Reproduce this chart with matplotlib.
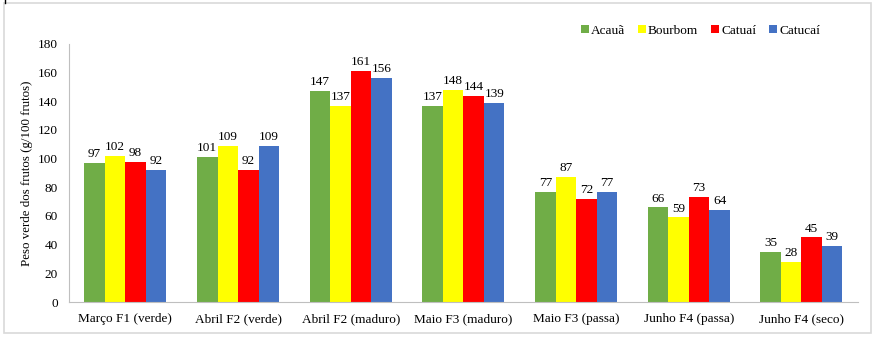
import numpy as np
import matplotlib.pyplot as plt
from matplotlib.patches import Rectangle
from matplotlib.lines import Line2D

plt.rcParams['font.family'] = ['Liberation Serif', 'DejaVu Serif']

# Fresh fruit weight per harvest stage and cultivar
stages = ['Março F1 (verde)', 'Abril F2 (verde)', 'Abril F2 (maduro)', 'Maio F3 (maduro)',
          'Maio F3 (passa)', 'Junho F4 (passa)', 'Junho F4 (seco)']
acaua = [97, 101, 147, 137, 77, 66, 35]
bourbom = [102, 109, 137, 148, 87, 59, 28]
catuai = [98, 92, 161, 144, 72, 73, 45]
catucai = [92, 109, 156, 139, 77, 64, 39]

series = [('Acauã', acaua, '#70AD47'),
          ('Bourbom', bourbom, '#FFFF00'),
          ('Catuaí', catuai, '#FF0000'),
          ('Catucaí', catucai, '#4472C4')]

fig = plt.figure(figsize=(8.78, 3.38), dpi=100)
ax = fig.add_axes([0.0786, 0.1065, 0.8984, 0.7635])

x = np.arange(len(stages))
w = 0.182
for i, (name, vals, col) in enumerate(series):
    pos = x + (i - 1.5) * w
    bars = ax.bar(pos, vals, w, color=col, label=name)
    for b, v in zip(bars, vals):
        ax.text(b.get_x() + b.get_width() / 2, v + 2, str(v),
                ha='center', va='bottom', fontsize=9.5)

ax.set_xlim(-0.5, len(stages) - 0.5)
ax.set_ylim(0, 180)
ax.set_yticks(range(0, 181, 20))
ax.set_xticks(x)
ax.set_xticklabels(stages)
ax.tick_params(axis='both', length=0, labelsize=9.5)
ax.tick_params(axis='y', pad=8)
ax.tick_params(axis='x', pad=8)
for s in ['top', 'right']:
    ax.spines[s].set_visible(False)
for s in ['left', 'bottom']:
    ax.spines[s].set_color('#BFBFBF')
ax.set_ylabel('Peso verde dos frutos (g/100 frutos)', fontsize=9.3, labelpad=4)
ax.yaxis.set_label_coords(-0.0456, 0.5)

leg = fig.legend(loc='upper left', bbox_to_anchor=(0.648, 0.962), ncol=4, frameon=False,
                 fontsize=9.5, handlelength=0.6, handleheight=0.6, handletextpad=0.15,
                 columnspacing=1.0)

# outer chart border
fig.add_artist(Rectangle((4 / 878, 5 / 338), 867 / 878, 330 / 338, transform=fig.transFigure,
                         fill=False, edgecolor='#D9D9D9', linewidth=1.2))
fig.add_artist(Line2D([5 / 878, 5 / 878], [1.0, 335 / 338], transform=fig.transFigure,
                      color='black', linewidth=1))

fig.savefig('out.png', dpi=100)
